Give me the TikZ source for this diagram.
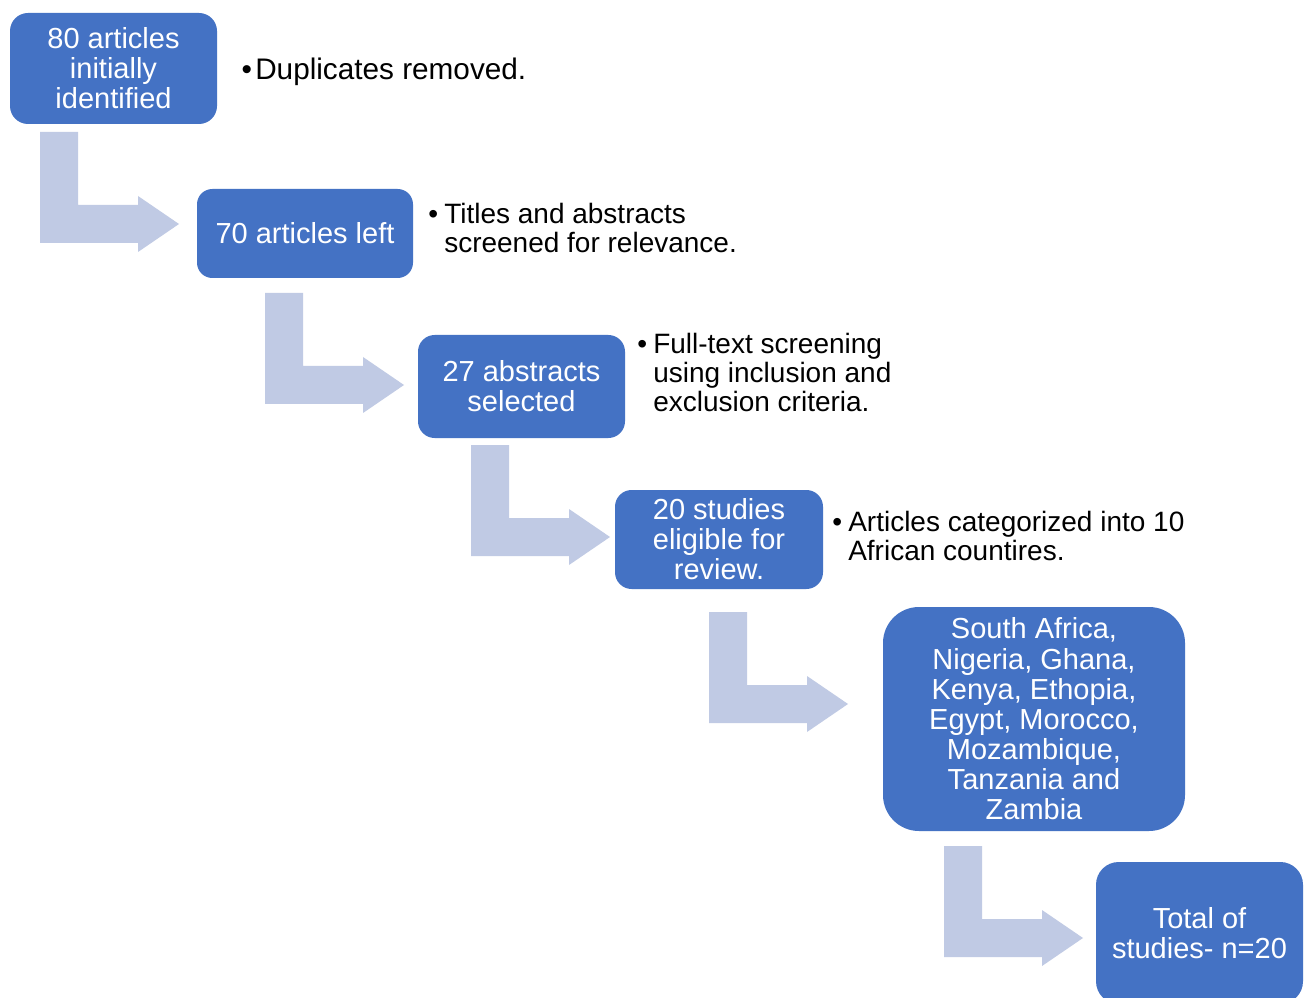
\documentclass[tikz,border=0pt]{standalone}
\usepackage{fontspec}
\setmainfont{Liberation Sans}
\definecolor{boxc}{HTML}{4472C4}
\definecolor{arrowc}{HTML}{C0CAE4}
\begin{document}
\begin{tikzpicture}[x=0.75pt,y=-0.75pt,
  box/.style={fill=boxc, text=white, align=center, inner sep=0pt,
    font=\fontsize{21.75}{22.6}\selectfont},
  sz/.style 2 args={minimum width=#1*0.75pt, minimum height=#2*0.75pt},
  note/.style={anchor=north west, align=left, inner sep=0pt, text=black,
    font=\fontsize{21}{21.9}\selectfont},
  bent/.pic={\fill[arrowc] (0,0) -- (38,0) -- (38,73) -- (98,73) -- (98,64)
     -- (139,92) -- (98,120) -- (98,111) -- (0,111) -- cycle;}
]
\useasboundingbox (0,0) rectangle (1310,998);
\clip (0,0) rectangle (1310,998);
\fill[white] (0,0) rectangle (1310,998);

\pic at (40,132) {bent};
\pic at (265,293) {bent};
\pic at (471,445) {bent};
\pic at (709,612) {bent};
\pic at (944,846) {bent};

\node[box, sz={207}{111}, rounded corners=13.5pt] (b1) at (113.5,68.5) {80 articles\\initially\\identified};
\node[box, sz={216}{89}, rounded corners=11.5pt] (b2) at (305,233.5) {70 articles left};
\node[box, sz={207}{103}, rounded corners=12.5pt] (b3) at (521.5,386.5) {27 abstracts\\selected};
\node[box, sz={208}{99}, rounded corners=12.5pt] (b4) at (719,539.5) {20 studies\\eligible for\\review.};
\node[box, sz={302}{224}, rounded corners=27pt] (b5) at (1034,719) {South Africa,\\Nigeria, Ghana,\\Kenya, Ethopia,\\Egypt, Morocco,\\Mozambique,\\Tanzania and\\Zambia};
\node[box, sz={207}{142}, rounded corners=17pt] (b6) at (1199.5,933) {Total of\\studies- n=20};

\node[note, font=\fontsize{22.3}{23}\selectfont] (t1) at (255,58) {\llap{•\hspace{2.5pt}}Duplicates removed.};
\node[note] (t2) at (444,203) {\llap{•\hspace{4.5pt}}Titles and abstracts\\screened for relevance.};
\node[note] (t3) at (653,333) {\llap{•\hspace{4.5pt}}Full-text screening\\using inclusion and\\exclusion criteria.};
\node[note] (t4) at (848,511) {\llap{•\hspace{4.5pt}}Articles categorized into 10\\African countires.};
\end{tikzpicture}
\end{document}
